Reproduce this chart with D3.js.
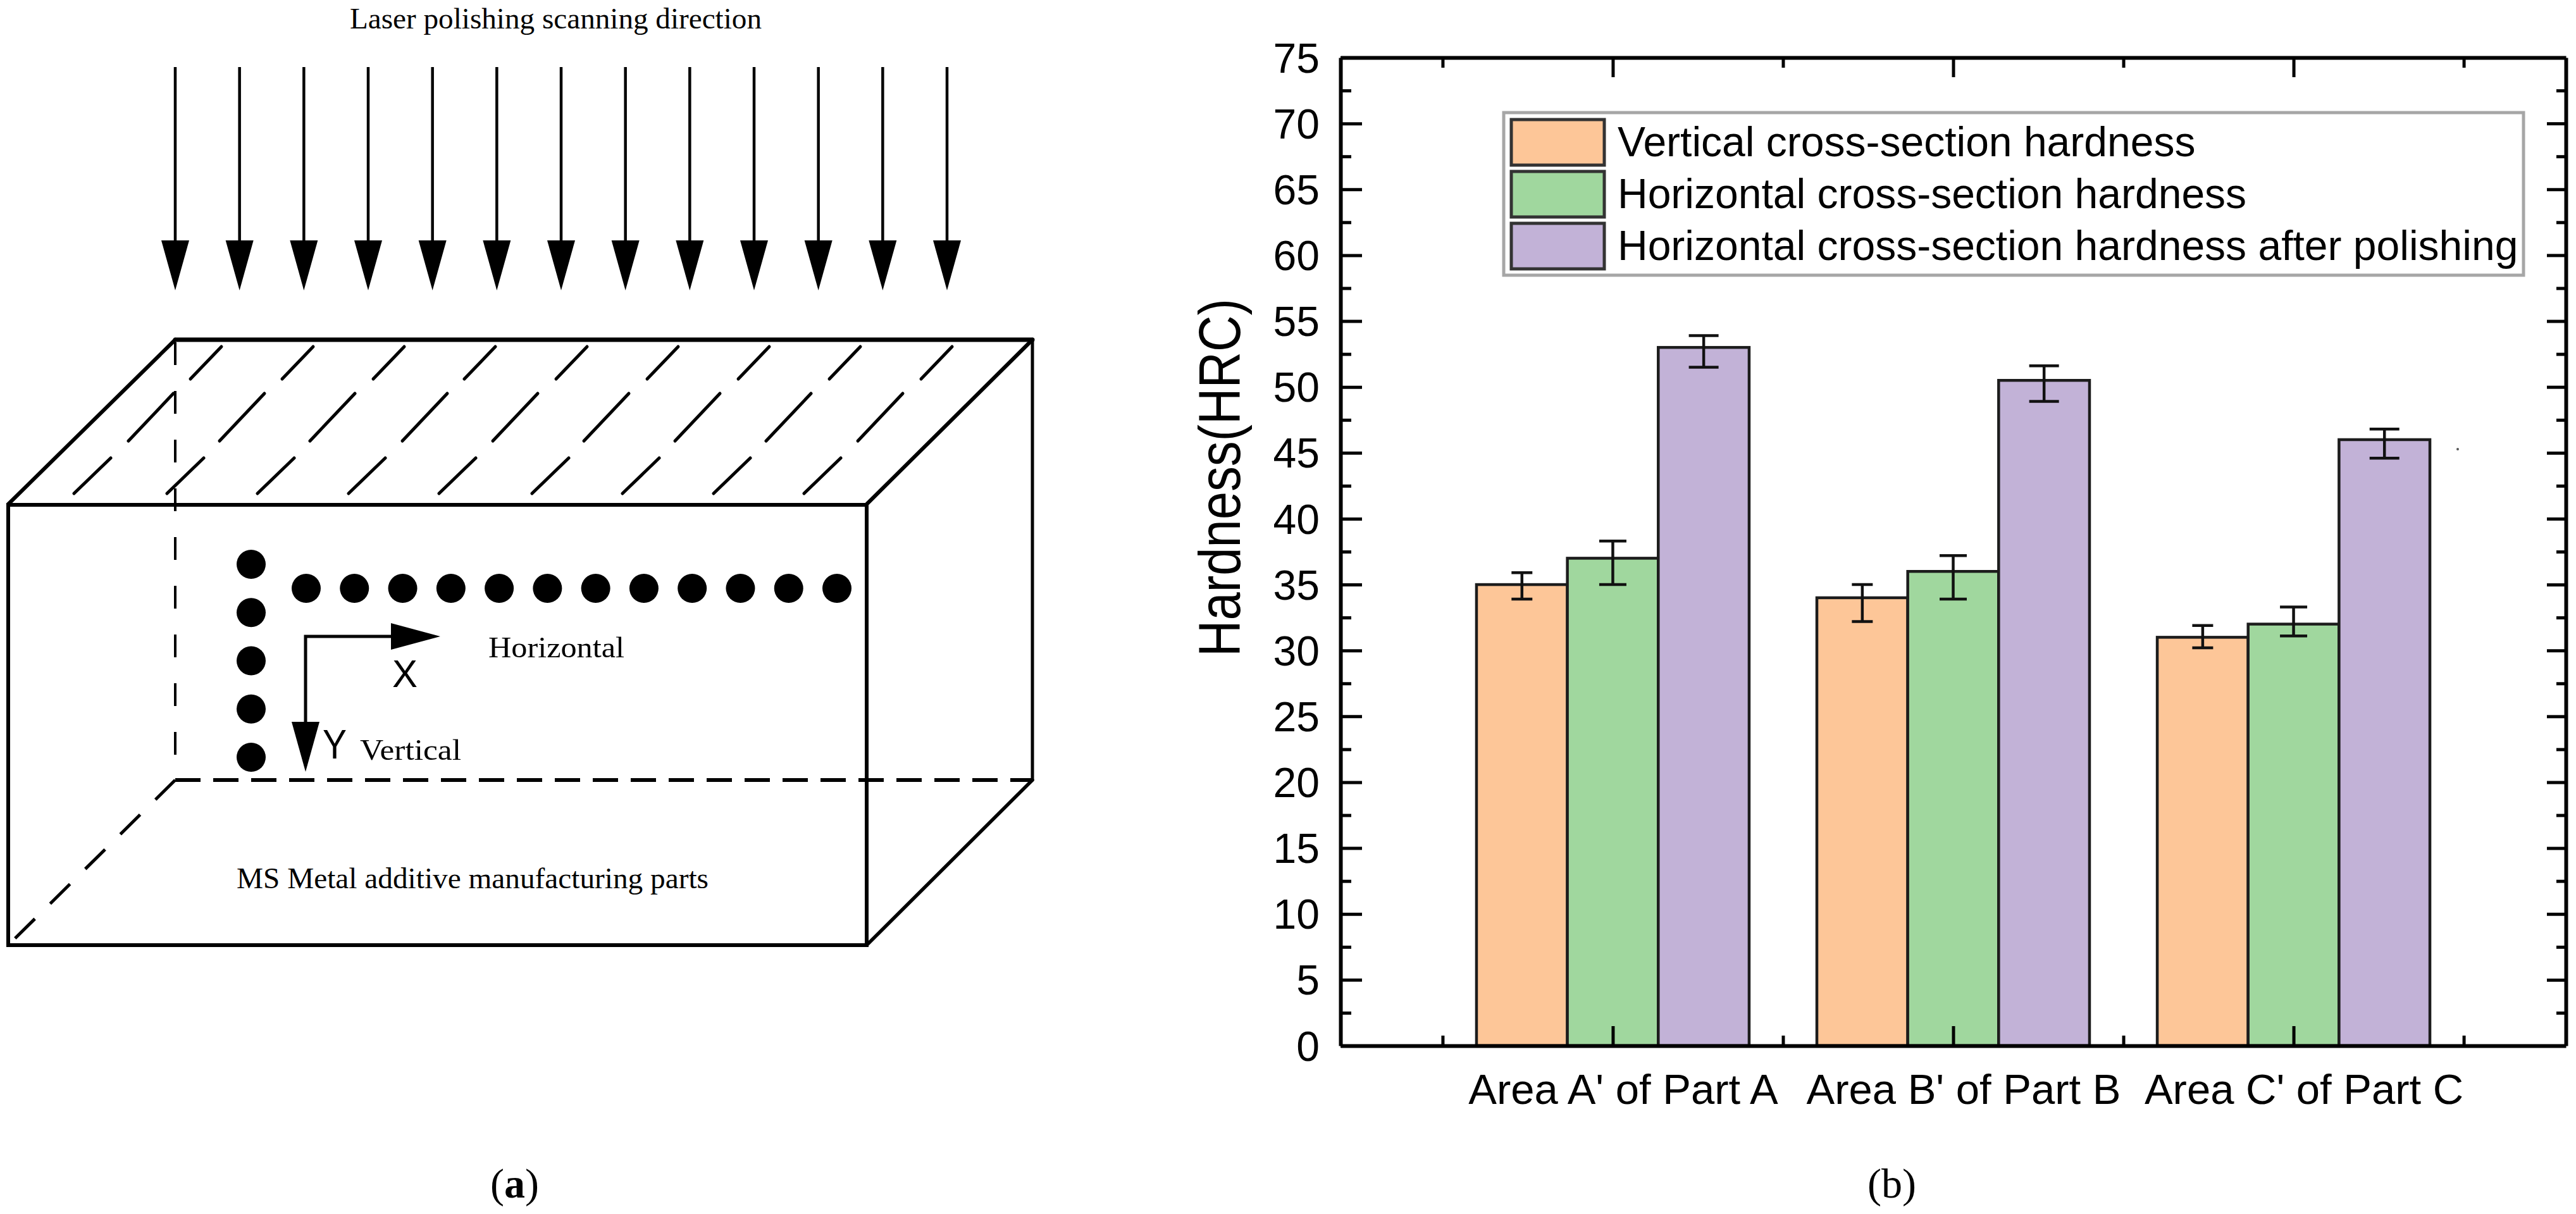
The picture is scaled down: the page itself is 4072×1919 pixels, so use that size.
<!DOCTYPE html>
<html><head><meta charset="utf-8">
<style>html,body{margin:0;padding:0;background:#fff}svg{display:block}</style>
<script src="https://cdn.jsdelivr.net/npm/d3@7"></script>
</head><body><svg id="c" width="4072" height="1919" viewBox="0 0 4072 1919"></svg>
<script>
// ---- panel (b) data ----
const categories = ["Area A' of Part A", "Area B' of Part B", "Area C' of Part C"];
const seriesNames = ["Vertical cross-section hardness", "Horizontal cross-section hardness", "Horizontal cross-section hardness after polishing"];
const verticalHardness = [35, 34, 31];
const verticalLow = [33.9, 32.2, 30.2];
const verticalHigh = [35.9, 35.0, 31.9];
const horizontalHardness = [37, 36, 32];
const horizontalLow = [35.0, 33.9, 31.1];
const horizontalHigh = [38.3, 37.2, 33.3];
const polishedHardness = [53, 50.5, 46];
const polishedLow = [51.5, 48.9, 44.6];
const polishedHigh = [53.9, 51.6, 46.8];
const yMajorTicks = d3.range(0, 76, 5);
const yMinorTicks = d3.range(2.5, 75, 5);
const xMajorTicks = [1, 2, 3];
const xMinorTicks = [0.5, 1.5, 2.5, 3.5];
const seriesColors = ["#FDC698", "#A0D79E", "#C2B2D7"];

// ---- panel (a) diagram labels ----
const scanArrowCount = 13;
const horizontalPointCount = 12;
const verticalPointCount = 5;

const svg = d3.select("#c");
const SANS = "'Liberation Sans',Arial,sans-serif", SERIF = "'Liberation Serif','Times New Roman',serif";
const INK = "#000";

function label(t, x, y, size, len, fam, extra) {
  const n = svg.append("text").attr("x", x).attr("y", y).attr("font-family", fam || SERIF).attr("font-size", size).attr("fill", "#000").text(t);
  if (len) n.attr("textLength", len).attr("lengthAdjust", "spacingAndGlyphs");
  if (extra) extra(n);
  return n;
}

// ================= Panel (a) =================
const a = svg.append("g").attr("fill", "none").attr("stroke", INK);
const arrowX = d3.scaleLinear().domain([0, scanArrowCount - 1]).range([277, 1497]);
d3.range(scanArrowCount).forEach(i => {
  const x = arrowX(i);
  a.append("line").attr("x1", x).attr("x2", x).attr("y1", 106).attr("y2", 385).attr("stroke-width", 4.5);
  a.append("path").attr("d", `M${x-22},380L${x+22},380L${x},459Z`).attr("fill", INK).attr("stroke", "none");
});
label("Laser polishing scanning direction", 553, 45, 47, 651);

// box
const boxLines = [[277,537,1632,537,7],[277,537,13,797,6],[1632,537,1370,797,6],[1632,537,1632,1233,5],[1370,1494,1632,1233,5.5]];
boxLines.forEach(l => a.append("line").attr("x1", l[0]).attr("y1", l[1]).attr("x2", l[2]).attr("y2", l[3]).attr("stroke-width", l[4]).attr("stroke-linecap","round"));
a.append("rect").attr("x", 13).attr("y", 798).attr("width", 1357).attr("height", 696).attr("stroke-width", 6);
// hidden edges
a.append("line").attr("x1",277).attr("y1",541).attr("x2",277).attr("y2",1233).attr("stroke-width",4).attr("stroke-dasharray","36 41");
a.append("line").attr("x1",277).attr("y1",1233).attr("x2",1632).attr("y2",1233).attr("stroke-width",6).attr("stroke-dasharray","40 20");
a.append("line").attr("x1",277).attr("y1",1233).attr("x2",13).attr("y2",1494).attr("stroke-width",5).attr("stroke-dasharray","44 34");
// scan hatch on top face
const hatchRows = [
  {xs:[301,446,590,734,879,1023,1167,1311,1456], dx:49, y0:599, y1:548},
  {xs:[203,347,490,636,779,923,1067,1211,1356], dx:71, y0:697, y1:622},
  {xs:[117,264,407,551,694,841,984,1128,1271], dx:58, y0:780, y1:724}
];
hatchRows.forEach(r => r.xs.forEach(x => a.append("line").attr("x1",x).attr("y1",r.y0).attr("x2",x+r.dx).attr("y2",r.y1).attr("stroke-width",5).attr("stroke-linecap","round")));
// measuring points
const vPointY = d3.scaleLinear().domain([0, verticalPointCount-1]).range([892,1197]);
d3.range(verticalPointCount).forEach(i => a.append("ellipse").attr("cx",397).attr("cy",vPointY(i)).attr("rx",23).attr("ry",23).attr("fill",INK).attr("stroke","none"));
const hPointX = d3.scaleLinear().domain([0, horizontalPointCount-1]).range([484,1323]);
d3.range(horizontalPointCount).forEach(i => a.append("ellipse").attr("cx",hPointX(i)).attr("cy",930).attr("rx",23).attr("ry",23).attr("fill",INK).attr("stroke","none"));
// XY frame
a.append("path").attr("d","M620,1006H483V1145").attr("stroke-width",5);
a.append("path").attr("d","M618,985L696,1006L618,1027Z").attr("fill",INK).attr("stroke","none");
a.append("path").attr("d","M461,1141L505,1141L483,1220Z").attr("fill",INK).attr("stroke","none");
label("X", 620, 1086, 62, 40, SANS);
label("Y", 510, 1199, 64, 38, SANS);
label("Horizontal", 772, 1039, 47, 215);
label("Vertical", 569, 1201, 47, 160);
label("MS Metal additive manufacturing parts", 374, 1404, 47, 746);
const capA = label("(", 775, 1893, 66);
capA.append("tspan").attr("font-weight","bold").text("a");
capA.append("tspan").text(")");

// ================= Panel (b) =================
const L = 2119, R = 4056, T = 91, B = 1653;
const x = d3.scaleLinear().domain([0.2, 3.8]).range([L, R]);
const y = d3.scaleLinear().domain([0, 75]).range([B, T]);
const barW = 0.267;
const series = [
  {name: seriesNames[0], v: verticalHardness, lo: verticalLow, hi: verticalHigh, cap: 33},
  {name: seriesNames[1], v: horizontalHardness, lo: horizontalLow, hi: horizontalHigh, cap: 43},
  {name: seriesNames[2], v: polishedHardness, lo: polishedLow, hi: polishedHigh, cap: 47}
];
const bars = svg.append("g");
series.forEach((s, si) => {
  s.v.forEach((v, ci) => {
    const cx = ci + 1 + (si - 1) * barW;
    bars.append("rect")
      .attr("x", x(cx - barW / 2)).attr("width", x(cx + barW / 2) - x(cx - barW / 2))
      .attr("y", y(v)).attr("height", y(0) - y(v))
      .attr("fill", seriesColors[si]).attr("stroke", "#1c1c1c").attr("stroke-width", 4.5);
  });
});
series.forEach((s, si) => {
  s.v.forEach((v, ci) => {
    const px = x(ci + 1 + (si - 1) * barW);
    const g = bars.append("g").attr("stroke", "#111").attr("stroke-width", 4.5);
    g.append("line").attr("x1", px).attr("x2", px).attr("y1", y(s.lo[ci])).attr("y2", y(s.hi[ci]));
    [s.lo[ci], s.hi[ci]].forEach(e => g.append("line").attr("x1", px - s.cap/2).attr("x2", px + s.cap/2).attr("y1", y(e)).attr("y2", y(e)));
  });
});

function styleAxis(g) {
  g.selectAll("path").attr("stroke", INK).attr("stroke-width", 6).attr("fill", "none");
  g.selectAll("line").attr("stroke", INK).attr("stroke-width", 5);
}
const yLeft = svg.append("g").attr("transform", `translate(${L},0)`)
  .call(d3.axisLeft(y).tickValues(yMajorTicks).tickSize(-34).tickSizeOuter(0).tickPadding(33));
yLeft.call(styleAxis);
yLeft.selectAll("text").attr("font-family", SANS).attr("font-size", 66).attr("fill", "#000").attr("dy", "0.35em");
svg.append("g").attr("transform", `translate(${L},0)`)
  .call(d3.axisLeft(y).tickValues(yMinorTicks).tickSize(-17).tickSizeOuter(0).tickFormat(""))
  .call(styleAxis).select("path").remove();
svg.append("g").attr("transform", `translate(${R},0)`)
  .call(d3.axisRight(y).tickValues(yMajorTicks).tickSize(-30).tickSizeOuter(0).tickFormat(""))
  .call(styleAxis);
svg.append("g").attr("transform", `translate(${R},0)`)
  .call(d3.axisRight(y).tickValues(yMinorTicks).tickSize(-15).tickSizeOuter(0).tickFormat(""))
  .call(styleAxis).select("path").remove();

const xBottom = svg.append("g").attr("transform", `translate(0,${B})`)
  .call(d3.axisBottom(x).tickValues(xMajorTicks).tickSize(-31).tickSizeOuter(0).tickPadding(44).tickFormat(d => categories[d - 1]));
xBottom.call(styleAxis);
xBottom.selectAll("text").attr("font-family", SANS).attr("font-size", 67).attr("fill", "#000").attr("dx", 16).attr("y", 92).attr("dy", 0);
svg.append("g").attr("transform", `translate(0,${B})`)
  .call(d3.axisBottom(x).tickValues(xMinorTicks).tickSize(-16).tickSizeOuter(0).tickFormat(""))
  .call(styleAxis).select("path").remove();
svg.append("g").attr("transform", `translate(0,${T})`)
  .call(d3.axisTop(x).tickValues(xMajorTicks).tickSize(-31).tickSizeOuter(0).tickFormat(""))
  .call(styleAxis);
svg.append("g").attr("transform", `translate(0,${T})`)
  .call(d3.axisTop(x).tickValues(xMinorTicks).tickSize(-16).tickSizeOuter(0).tickFormat(""))
  .call(styleAxis).select("path").remove();

svg.append("text").attr("transform", "translate(1960,1038) rotate(-90)")
  .attr("font-family", SANS).attr("font-size", 92).attr("fill", "#000")
  .attr("textLength", 566).attr("lengthAdjust", "spacingAndGlyphs").text("Hardness(HRC)");

// legend
const lg = svg.append("g");
lg.append("rect").attr("x", 2377).attr("y", 178).attr("width", 1612).attr("height", 257).attr("fill", "#fff").attr("stroke", "#a6a6a6").attr("stroke-width", 5);
const legendY = d3.scalePoint().domain(d3.range(3)).range([189, 353]);
series.forEach((s, i) => {
  lg.append("rect").attr("x", 2389).attr("y", legendY(i)).attr("width", 147).attr("height", 72)
    .attr("fill", seriesColors[i]).attr("stroke", "#333").attr("stroke-width", 5);
  lg.append("text").attr("x", 2557).attr("y", legendY(i) + 58).attr("font-family", SANS).attr("font-size", 66).attr("fill", "#000").text(s.name);
});
// speck in the original
svg.append("circle").attr("cx", 3885).attr("cy", 710).attr("r", 2).attr("fill", "#555");

const capB = label("(", 2952, 1893, 66);
capB.append("tspan").text("b");
capB.append("tspan").text(")");
</script></body></html>
